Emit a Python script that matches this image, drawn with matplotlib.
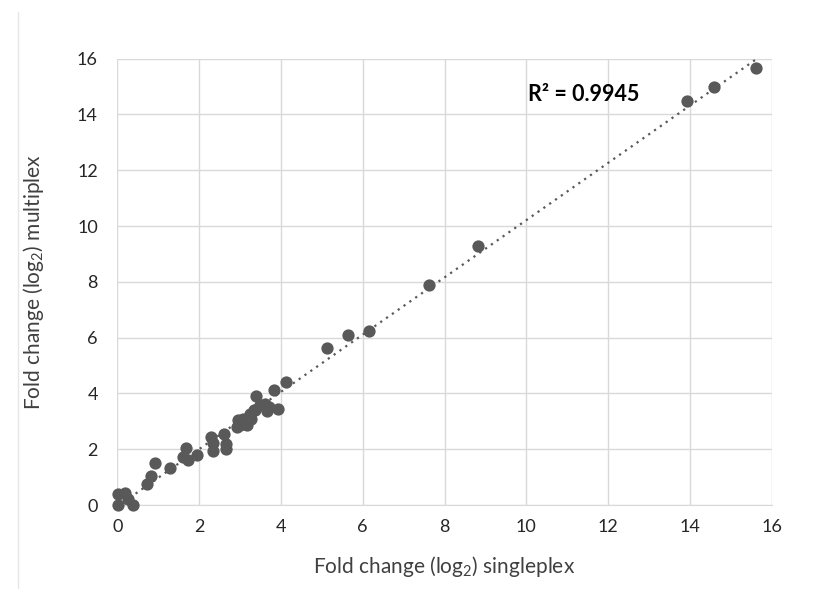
import matplotlib
matplotlib.use("Agg")
import matplotlib.pyplot as plt
import numpy as np
from matplotlib.lines import Line2D

plt.rcParams['font.family'] = ['Lato', 'DejaVu Sans']
plt.rcParams['mathtext.fontset'] = 'custom'
plt.rcParams['mathtext.rm'] = 'Lato'

singleplex = [0.02, 0.19, 0.25, 0.02, 0.39, 0.72, 0.82, 0.93, 1.29, 1.61, 1.68, 1.73,
              1.96, 2.29, 2.33, 2.33, 2.61, 2.65, 2.65, 2.93, 2.96, 3.00, 3.07, 3.12,
              3.16, 3.24, 3.28, 3.33, 3.36, 3.38, 3.49, 3.62, 3.67, 3.70, 3.82, 3.92,
              4.13, 5.12, 5.64, 6.15, 7.62, 8.82, 13.94, 14.60, 15.61]
multiplex = [0.38, 0.42, 0.20, 0.00, 0.00, 0.77, 1.05, 1.49, 1.32, 1.73, 2.05, 1.63,
             1.81, 2.44, 2.24, 1.94, 2.56, 2.20, 2.00, 2.80, 3.04, 2.85, 3.10, 2.92,
             2.88, 3.27, 3.10, 3.40, 3.42, 3.91, 3.58, 3.63, 3.36, 3.50, 4.12, 3.43,
             4.40, 5.62, 6.08, 6.24, 7.88, 9.30, 14.48, 14.98, 15.67]
ticks = [0, 2, 4, 6, 8, 10, 12, 14, 16]
r2_label = "R² = 0.9945"

fig = plt.figure(figsize=(8.25, 5.89), dpi=100)
ax = fig.add_axes([0.1422, 0.1426, 0.9354 - 0.1422, 0.9005 - 0.1426])

x = np.array(singleplex)
y = np.array(multiplex)
coef = np.polyfit(x, y, 1)
xl = np.array([x.min(), x.max()])
ax.plot(xl, np.polyval(coef, xl), linestyle=(0, (1, 2.2)), color='#595959', lw=1.6, zorder=2)
ax.scatter(x, y, s=78, color='#595959', zorder=3, linewidths=0, clip_on=False)

ax.set_xlim(0, 16)
ax.set_ylim(0, 16)
ax.set_xticks(ticks)
ax.set_yticks(ticks)
ax.grid(True, color='#d9d9d9', lw=1)
ax.set_axisbelow(True)
for s in ax.spines.values():
    s.set_visible(False)
ax.spines['bottom'].set_visible(True)
ax.spines['bottom'].set_color('#d9d9d9')
ax.tick_params(length=0, labelsize=13, colors='#262626', pad=10)
ax.tick_params(axis='y', pad=14)

ax.set_xlabel("Fold change (log$_2$) singleplex", fontsize=15, color='#404040', labelpad=14)
ax.set_ylabel("Fold change (log$_2$) multiplex", fontsize=15, color='#404040', labelpad=22)

ax.text(10.05, 14.7, r2_label, fontsize=15.5, fontweight='bold', color='black', va='center', ha='left')

fig.add_artist(Line2D([18/825, 18/825], [0, 1 - 12/589], transform=fig.transFigure, color='#e6e6e6', lw=1))

fig.savefig("out.png", dpi=100)
